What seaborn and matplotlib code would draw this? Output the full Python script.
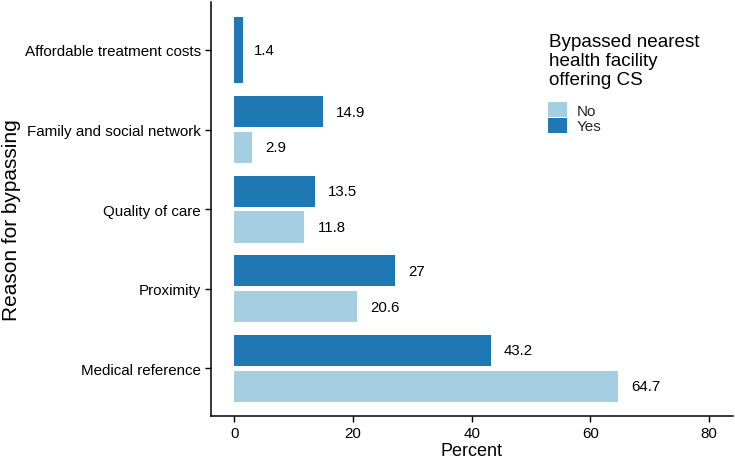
import pandas as pd
import seaborn as sns
import matplotlib.pyplot as plt

reasons = ["Affordable treatment costs", "Family and social network",
           "Quality of care", "Proximity", "Medical reference"]
yes_pct = [1.4, 14.9, 13.5, 27, 43.2]
no_pct = [None, 2.9, 11.8, 20.6, 64.7]
labels_yes = ["1.4", "14.9", "13.5", "27", "43.2"]
labels_no = ["", "2.9", "11.8", "20.6", "64.7"]

dark = "#1f78b4"
light = "#a6cee3"

rows = []
for r, y, n in zip(reasons, yes_pct, no_pct):
    if n is not None:
        rows.append({"reason": r, "pct": y, "bypass": "Yes"})
        rows.append({"reason": r, "pct": n, "bypass": "No"})
df_pair = pd.DataFrame(rows)
df_single = pd.DataFrame({"reason": [r for r, n in zip(reasons, no_pct) if n is None],
                          "pct": [y for y, n in zip(yes_pct, no_pct) if n is None]})

sns.set_theme(style="white")
plt.rcParams["font.family"] = ["Liberation Sans", "DejaVu Sans"]

W, H = 735, 460
fig = plt.figure(figsize=(W / 100, H / 100), dpi=100)
ax = fig.add_axes([0.2867, 0.0935, 0.7103, 0.8995])

sns.barplot(data=df_pair, y="reason", x="pct", hue="bypass", order=reasons,
            hue_order=["Yes", "No"], palette={"Yes": dark, "No": light},
            width=0.9, gap=0.13, linewidth=0, ax=ax, errorbar=None,
            saturation=1)
sns.barplot(data=df_single, y="reason", x="pct", order=reasons, color=dark,
            width=0.82, linewidth=0, ax=ax, errorbar=None, saturation=1)

# value labels next to bar ends
for i, r in enumerate(reasons):
    if no_pct[i] is None:
        ax.annotate(labels_yes[i], (yes_pct[i], i), xytext=(8, 0),
                    textcoords="offset points", va="center", ha="left",
                    fontsize=10.8, color="black")
    else:
        ax.annotate(labels_yes[i], (yes_pct[i], i - 0.225), xytext=(9.5, 0),
                    textcoords="offset points", va="center", ha="left",
                    fontsize=10.8, color="black")
        ax.annotate(labels_no[i], (no_pct[i], i + 0.225), xytext=(9.5, 0),
                    textcoords="offset points", va="center", ha="left",
                    fontsize=10.8, color="black")

ax.set_xlim(-4, 84)
ax.set_ylim(4.6, -0.6)
ax.set_xticks([0, 20, 40, 60, 80])
ax.set_xlabel("Percent", fontsize=13, color="black", labelpad=2)
ax.set_ylabel("Reason for bypassing", fontsize=15, color="black", va="center")
ax.yaxis.set_label_coords(-0.382, 0.475)
ax.tick_params(axis="both", which="major", length=4, width=1, color="black",
               labelsize=10.9, labelcolor="black", direction="out",
               left=True, bottom=True, pad=3)
sns.despine(ax=ax)
for s in ["left", "bottom"]:
    ax.spines[s].set_color("black")
    ax.spines[s].set_linewidth(1.1)

# legend: title as text, keys below
fig.text(549 / W, 1 - 34 / H, "Bypassed nearest\nhealth facility\noffering CS",
         fontsize=13.6, color="black", ha="left", va="top", linespacing=1.15)
handles, labs = ax.get_legend_handles_labels()
hmap = dict(zip(labs, handles))
ax.legend([hmap["No"], hmap["Yes"]], ["No", "Yes"],
          loc="upper left", bbox_to_anchor=(548 / W, 1 - 103 / H),
          bbox_transform=fig.transFigure, frameon=False,
          fontsize=11, borderpad=0, borderaxespad=0,
          handlelength=1.27, handleheight=1.13, handletextpad=0.6,
          labelspacing=0.0)

fig.savefig("out.png", dpi=100)
